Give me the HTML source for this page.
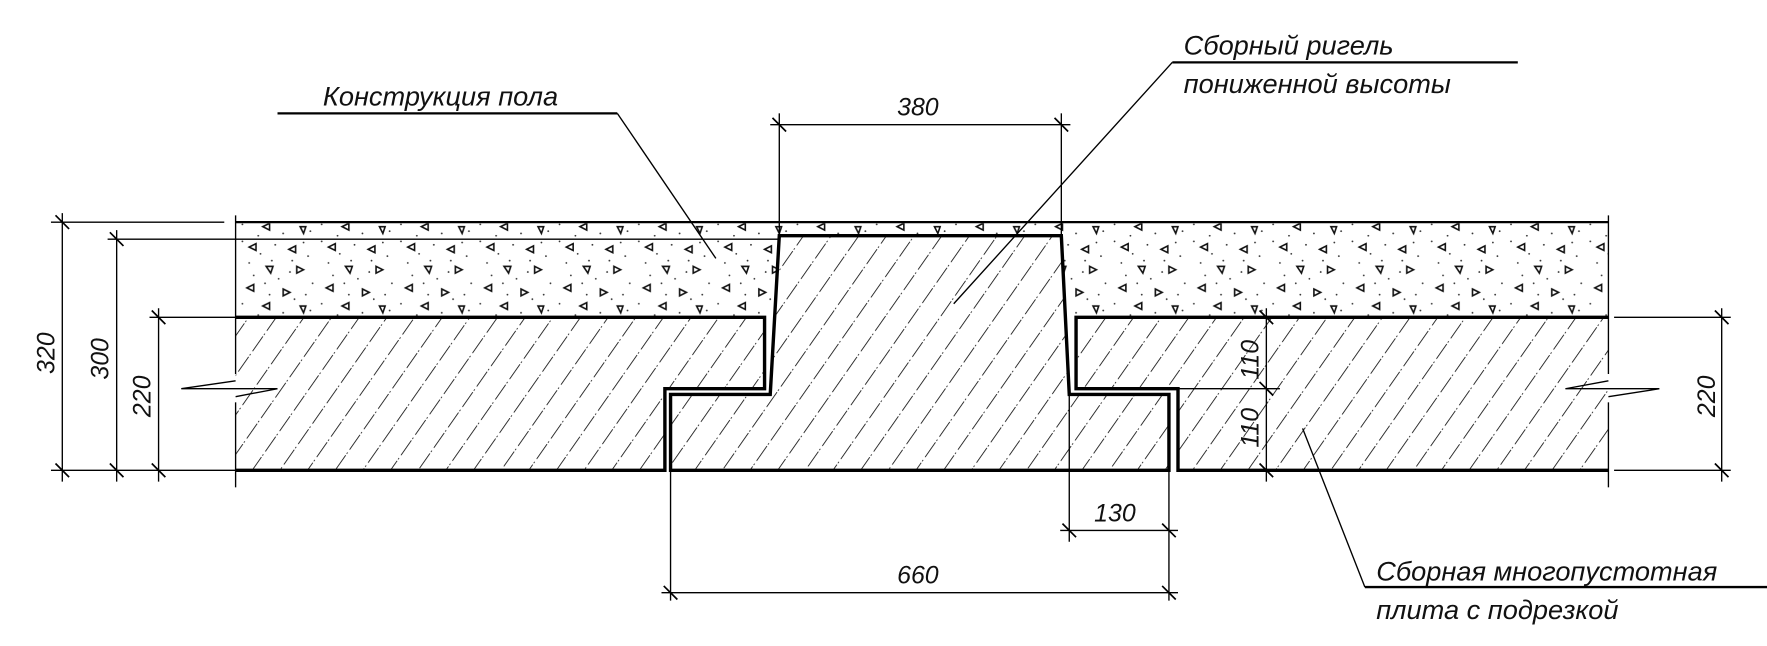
<!DOCTYPE html>
<html><head><meta charset="utf-8"><style>
html,body{margin:0;padding:0;background:#fff;}
svg{display:block}
text{font-family:"Liberation Sans",sans-serif;font-style:italic;fill:#111}
</style></head><body>
<svg width="1767" height="646" viewBox="0 0 1560 570" preserveAspectRatio="none" xmlns="http://www.w3.org/2000/svg">
<defs>
<pattern id="hatch" patternUnits="userSpaceOnUse" width="20" height="22" patternTransform="rotate(35)">
<line x1="0" y1="0" x2="0" y2="22" stroke="#111" stroke-width="1.5" stroke-dasharray="16 3 1.5 1.5"/>
</pattern>
<pattern id="conc" patternUnits="userSpaceOnUse" width="70" height="70">
<g fill="none" stroke="#111" stroke-width="1.4">
<path d="M10 8 l6 -3 v6 z"/><path d="M45 10 l6 -3 v6 z"/>
<path d="M25 25 l6 0 l-2 6 z"/><path d="M58 28 l-6 -3 v6 z"/>
<path d="M8 44 l6 -3 v6 z"/><path d="M40 45 l6 3 l-6 3 z"/>
<path d="M22 60 l6 -3 v6 z"/><path d="M55 60 l5 0 l-2 6 z"/>
</g>
<g fill="#333">
<circle cx="4" cy="3" r=".8"/><circle cx="20" cy="14" r=".8"/><circle cx="33" cy="6" r=".8"/><circle cx="62" cy="16" r=".8"/>
<circle cx="14" cy="33" r=".8"/><circle cx="36" cy="36" r=".8"/><circle cx="48" cy="20" r=".8"/><circle cx="66" cy="40" r=".8"/>
<circle cx="28" cy="50" r=".8"/><circle cx="50" cy="54" r=".8"/><circle cx="4" cy="58" r=".8"/><circle cx="40" cy="66" r=".8"/>
<circle cx="64" cy="64" r=".8"/><circle cx="18" cy="68" r=".8"/><circle cx="30" cy="20" r=".8"/><circle cx="58" cy="4" r=".8"/>
<circle cx="10" cy="22" r=".8"/><circle cx="46" cy="30" r=".8"/><circle cx="24" cy="40" r=".8"/><circle cx="60" cy="50" r=".8"/>
</g>
</pattern>
</defs>
<rect x="208" y="197" width="1212" height="83" fill="url(#conc)"/>
<path d="M208 280 H675 V343 H587 V415 H208 Z" fill="url(#hatch)"/>
<path d="M950 280 H1420 V415 H1040 V343 H950 Z" fill="url(#hatch)"/>
<path d="M688 208 H937 L944 348 H1032 V415 H592 V348 H680 Z" fill="#fff"/>
<path d="M688 208 H937 L944 348 H1032 V415 H592 V348 H680 Z" fill="url(#hatch)"/>
<g fill="none" stroke="#000" stroke-width="3">
<path d="M688 208 H937 L944 348 H1032 V415 H592 V348 H680 Z"/>
<path d="M208 280 H675 V343 H587 V415 H208"/>
<path d="M1420 280 H950 V343 H1040 V415 H1420"/>
</g>
<g stroke="#000" stroke-width="1.2" fill="none">
<line x1="208" y1="196" x2="1420" y2="196" stroke-width="2"/>
<line x1="45" y1="196" x2="198" y2="196"/>
<line x1="95" y1="211" x2="688" y2="211"/>
<line x1="132" y1="280" x2="208" y2="280"/>
<line x1="1425" y1="280" x2="1528" y2="280"/>
<line x1="45" y1="415" x2="208" y2="415"/>
<line x1="1425" y1="415" x2="1528" y2="415"/>
<line x1="208" y1="190" x2="208" y2="330"/><line x1="208" y1="355" x2="208" y2="430"/>
<line x1="1420" y1="190" x2="1420" y2="330"/><line x1="1420" y1="355" x2="1420" y2="430"/>
<path d="M160 343 L208 336 M160 343 H245 M245 343 L208 350"/>
<path d="M1382 343 L1420 336 M1382 343 H1465 M1465 343 L1420 350"/>
<line x1="55" y1="188" x2="55" y2="425"/>
<line x1="103" y1="203" x2="103" y2="425"/>
<line x1="140" y1="272" x2="140" y2="425"/>
<line x1="1520" y1="272" x2="1520" y2="425"/>
<line x1="1118" y1="272" x2="1118" y2="425"/>
<line x1="1040" y1="343" x2="1130" y2="343"/>
<line x1="688" y1="100" x2="688" y2="208"/><line x1="937" y1="100" x2="937" y2="208"/>
<line x1="680" y1="110" x2="945" y2="110"/>
<line x1="944" y1="348" x2="944" y2="478"/><line x1="1032" y1="415" x2="1032" y2="530"/>
<line x1="936" y1="468" x2="1040" y2="468"/>
<line x1="592" y1="415" x2="592" y2="530"/>
<line x1="584" y1="523" x2="1040" y2="523"/>
<line x1="245" y1="100" x2="545" y2="100" stroke-width="2"/>
<line x1="545" y1="100" x2="632" y2="228"/>
<line x1="1035" y1="55" x2="1340" y2="55" stroke-width="2"/>
<line x1="1035" y1="55" x2="842" y2="268"/>
<line x1="1205" y1="518" x2="1560" y2="518" stroke-width="2"/>
<line x1="1205" y1="518" x2="1150" y2="378"/>
</g>
<g stroke="#000" stroke-width="1.5">
<path d="M49 190 l12 12 M49 409 l12 12 M97 205 l12 12 M97 409 l12 12 M134 274 l12 12 M134 409 l12 12 M1514 274 l12 12 M1514 409 l12 12 M1112 274 l12 12 M1112 337 l12 12 M1112 409 l12 12 M682 104 l12 12 M931 104 l12 12 M938 462 l12 12 M1026 462 l12 12 M586 517 l12 12 M1026 517 l12 12"/>
</g>
<g font-size="22">
<text x="285" y="93" font-size="24">Конструкция пола</text>
<text x="1045" y="48" font-size="24">Сборный ригель</text>
<text x="1045" y="82" font-size="24">пониженной высоты</text>
<text x="1215" y="512" font-size="24">Сборная многопустотная</text>
<text x="1215" y="546" font-size="24">плита с подрезкой</text>
<text x="792" y="102">380</text>
<text x="966" y="460">130</text>
<text x="792" y="515">660</text>
<text transform="translate(48 330) rotate(-90)">320</text>
<text transform="translate(96 335) rotate(-90)">300</text>
<text transform="translate(133 368) rotate(-90)">220</text>
<text transform="translate(1514 368) rotate(-90)">220</text>
<text transform="translate(1111 335) rotate(-90)">110</text>
<text transform="translate(1111 395) rotate(-90)">110</text>
</g>
</svg>
</body></html>
